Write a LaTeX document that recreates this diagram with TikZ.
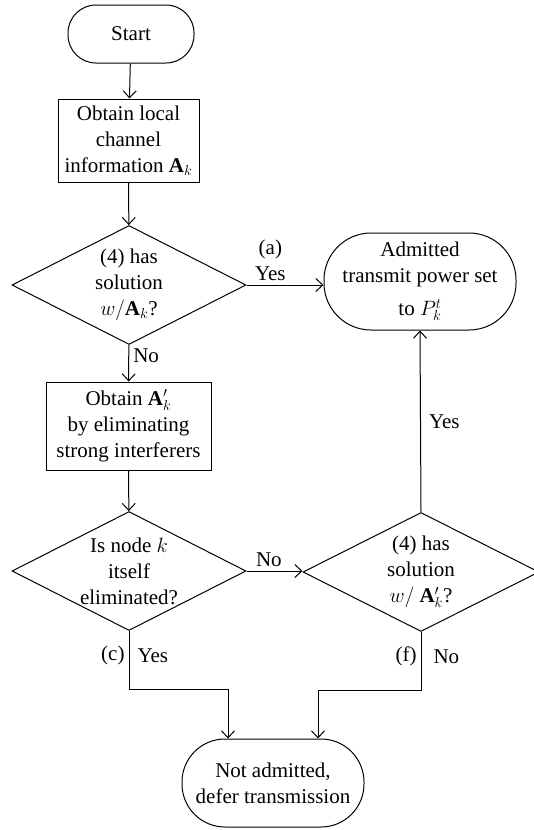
\documentclass[tikz,border=0pt]{standalone}
\usepackage{fontspec}
\setmainfont{Liberation Serif}
\usetikzlibrary{arrows.meta, shapes.geometric}

\begin{document}
\begin{tikzpicture}[x=1pt, y=-1pt,
    font=\fontsize{21}{26}\selectfont,
    every node/.style={align=center},
    stadium/.style={draw, line width=1pt, inner sep=2pt},
    procbox/.style={draw, line width=1pt, inner sep=3pt},
    decision/.style={draw, diamond, aspect=2, inner sep=0pt, line width=1pt,
      minimum width=234pt, minimum height=119pt},
    flow/.style={-{Straight Barb[length=7pt, width=13pt]}, line width=1pt},
    lbl/.style={inner sep=4pt}]
        \useasboundingbox (0,0) rectangle (534,830);

        % Terminals
        \node[stadium, minimum width=126pt, minimum height=58pt, rounded corners=28pt]
            (start) at (131,34) {Start};
        \node[stadium, minimum width=192pt, minimum height=97pt, rounded corners=47pt]
            (admit) at (420,281.5) {Admitted\\transmit power set\\[7pt]to $P_k^t$};
        \node[stadium, minimum width=182pt, minimum height=88pt, rounded corners=43pt]
            (defer) at (273,783) {Not admitted,\\defer transmission};

        % Process boxes
        \node[procbox, minimum width=141pt, minimum height=83pt]
            (info) at (128.5,140.5) {Obtain local\\channel\\information $\mathbf{A}_k$};
        \node[procbox, minimum width=165pt, minimum height=88pt]
            (elim) at (128.5,426) {Obtain $\mathbf{A}'_k$\\by eliminating\\strong interferers};

        % Decisions
        \node[decision] (hassol) at (129,285) {(4) has\\solution\\$w/\mathbf{A}_k$?};
        \node[decision] (itself) at (129,571) {Is node $k$\\itself\\eliminated?};
        \node[decision, minimum width=236pt] (hassolb) at (421,572)
            {(4) has\\solution\\$w/\ \mathbf{A}'_k$?};

        % Connectors
        \draw[flow] (start) -- (info);
        \draw[flow] (info) -- (hassol);
        \draw[flow] (hassol.east) -- (hassol.east -| admit.west)
            node[lbl, pos=0.31, above] {(a)\\Yes};
        \draw[flow] (hassol) -- (elim) node[lbl, pos=0.3, right] {No};
        \draw[flow] (elim) -- (itself);
        \draw[flow] (itself.east) -- (itself.east -| hassolb.west)
            node[lbl, pos=0.4, above] {No};
        \draw[flow] (hassolb.north) -- (admit.south)
            node[lbl, midway, right, inner sep=8pt] {Yes};
        \draw[flow] (itself.south) -- ++(0,58)
            node[lbl, pos=0.42, left] {(c)} node[lbl, pos=0.42, right, inner sep=8pt] {Yes}
            -| ([xshift=-45pt]defer.north);
        \draw[flow] (hassolb.south) -- ++(0,58)
            node[lbl, pos=0.42, left] {(f)} node[lbl, pos=0.42, right, inner sep=12pt] {No}
            -| ([xshift=45pt]defer.north);
    \end{tikzpicture}
\end{document}
